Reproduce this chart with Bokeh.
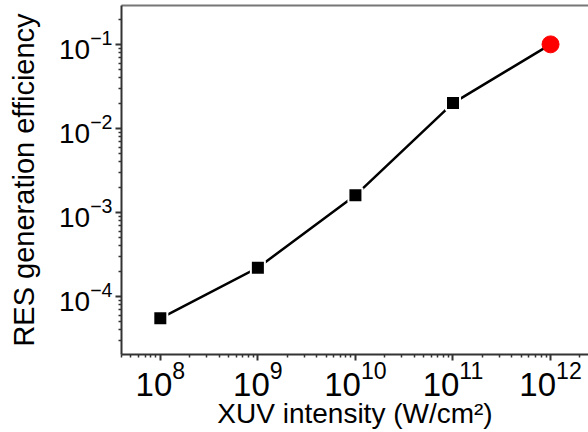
from bokeh.plotting import figure
from bokeh.models import Range1d, FixedTicker, LogAxis
from bokeh.embed import file_html
from bokeh.resources import INLINE

intensity = [1e8, 1e9, 1e10, 1e11, 1e12]
efficiency = [5.5e-5, 2.2e-4, 1.6e-3, 2.0e-2, 1.0e-1]
highlight_x = [1e12]
highlight_y = [1.0e-1]

x_major = [1e7, 1e8, 1e9, 1e10, 1e11, 1e12]
y_major = [1e-5, 1e-4, 1e-3, 1e-2, 1e-1]

FONT = "Liberation Sans"

p = figure(width=588, height=432, x_axis_type="log", y_axis_type="log",
           x_range=Range1d(4.0e7, 2.45e12), y_range=Range1d(2.04e-5, 0.29),
           output_backend="svg", toolbar_location=None,
           min_border_left=121, min_border_right=0, min_border_top=5, min_border_bottom=78)
p.outline_line_color = None
p.grid.visible = False
p.background_fill_color = "white"

x_minor = [m * d for d in x_major for m in range(2, 10)]
y_minor = [m * d for d in y_major for m in range(2, 10)]
p.xaxis.ticker = FixedTicker(ticks=x_major, minor_ticks=x_minor)
p.yaxis.ticker = FixedTicker(ticks=y_major, minor_ticks=y_minor)

for ax in (p.xaxis[0], p.yaxis[0]):
    ax.axis_line_color = "#333333"
    ax.axis_line_width = 2
    ax.major_tick_line_color = "#333333"
    ax.major_tick_line_width = 2
    ax.minor_tick_line_color = "#333333"
    ax.minor_tick_line_width = 1.5
    ax.major_tick_in = 0
    ax.major_tick_out = 6
    ax.minor_tick_in = 0
    ax.minor_tick_out = 3
    ax.major_label_text_font = FONT
    ax.major_label_text_color = "black"
    ax.axis_label_text_font = FONT
    ax.axis_label_text_font_style = "normal"
    ax.axis_label_text_color = "black"

p.xaxis.major_label_text_font_size = "33px"
p.yaxis.major_label_text_font_size = "28px"
p.xaxis.axis_label = "XUV intensity (W/cm²)"
p.yaxis.axis_label = "RES generation efficiency"
p.xaxis.axis_label_text_font_size = "28px"
p.yaxis.axis_label_text_font_size = "29px"
p.xaxis.major_label_standoff = 0
p.yaxis.major_label_standoff = 3
p.xaxis.axis_label_standoff = -1
p.yaxis.axis_label_standoff = 16

top = LogAxis(ticker=FixedTicker(ticks=[]), axis_line_color="#777777", axis_line_width=2,
              major_tick_out=0, minor_tick_out=0, major_tick_in=0, minor_tick_in=0,
              major_label_standoff=0, major_label_text_font_size="0px")
p.add_layout(top, "above")

p.line(intensity, efficiency, line_color="black", line_width=2.5)
p.scatter(intensity[:-1], efficiency[:-1], marker="square", size=14,
          fill_color="black", line_color="white", line_width=2)
p.scatter(highlight_x, highlight_y, marker="circle", size=17,
          fill_color="red", line_color="red", line_width=1)

open("out.html", "w").write(file_html(p, INLINE))
